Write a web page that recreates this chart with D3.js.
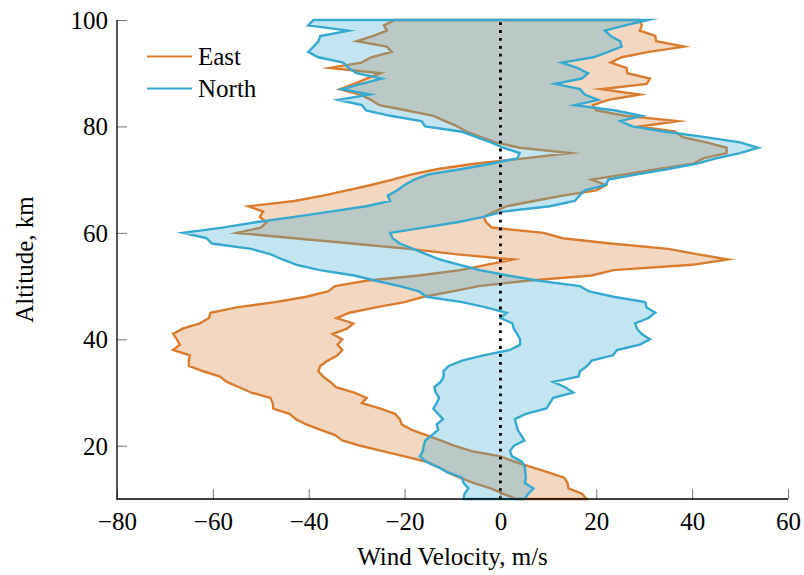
<!DOCTYPE html>
<html><head><meta charset="utf-8">
<script src="https://cdn.jsdelivr.net/npm/d3@7"></script>
<style>
body{margin:0;background:#fff}
svg{display:block}
text{font-family:"Liberation Serif","Times New Roman",serif;fill:#000}
</style>
</head><body>
<svg id="chart" width="804" height="575"></svg>
<script>
// Altitude grid (km), one value per km from 10 to 100
const altitudes = d3.range(10, 101);

// East wind band: lower and upper bound (m/s)
const eastLow = [
  3.4, 0.5, -2, -5.5, -8.5, -11, -13, -15.5, -20, -24.6,
  -29.2, -33, -34.5, -37.5, -40.5, -42.7, -44, -47.4, -47.5, -48,
  -52, -54.5, -57.1, -58.5, -62, -65, -65, -64.8, -68.3, -66.9,
  -67.5, -68.3, -66.3, -62.7, -60.8, -60.5, -55, -47, -40.5, -36,
  -34.5, -28, -17, -8.4, -3, 2.7, -9.5, -19, -31, -43,
  -55, -50, -48.8, -50.2, -49.5, -52.6, -43, -37, -32, -27,
  -22.5, -18.5, -13, -5.5, 5, 14.5, 4, -1, -4, -7,
  -9, -11.5, -14, -19.5, -25.3, -27, -29.3, -33.5, -30.5, -27.9,
  -25, -35.6, -29, -27, -22.7, -23.7, -30, -26.5, -23.7, -24.3, -22
];
const eastHigh = [
  18, 17, 14.2, 14, 13.3, 10, 6.5, 3, 0, -6,
  -9.5, -12.5, -15.5, -18.5, -20.6, -21, -22, -25, -28.9, -27.9,
  -30.5, -34.3, -35.5, -37, -38, -37.6, -36, -34, -33, -34,
  -33, -35, -32, -30.7, -34.2, -31.5, -26, -20, -16, -10,
  -4.5, 5.5, 19, 23.6, 40, 47.5, 41, 35, 23, 13,
  9, -1.8, -3, -3.5, -1.2, 1.3, 7, 13, 20, 22,
  19, 26, 33, 40.2, 42.3, 47.2, 47.2, 43, 38, 36.5,
  29, 37, 26, 20, 19.3, 22.5, 29.1, 21, 30.5, 31.2,
  26.5, 26.3, 23, 25.3, 31, 38.3, 32.5, 32.3, 29.1, 29.5, 29
];
// North wind band: lower and upper bound (m/s)
const northLow = [
  -7.7, -7.5, -6.7, -7.7, -8, -11, -13, -15.5, -16.8, -16.2,
  -16, -15.7, -14.3, -13, -13.3, -12, -13, -14, -13.3, -12.8,
  -13.5, -13.8, -12.5, -11.8, -11.9, -10.8, -8, -3.6, 2, 4.1,
  4.1, 3.5, 2.8, 2.5, 0, 1.3, -3, -8, -15.4, -17,
  -21, -26, -30.5, -37.7, -42.5, -45.5, -48, -52, -60.2, -61.3,
  -66.2, -58, -51, -43, -35.5, -28, -23, -23.5, -21.5, -20,
  -18, -15, -8, -2, 3.5, 4, 0.6, -2, -5, -8,
  -15.7, -16.5, -23, -28, -28.9, -33.8, -27.2, -33.1, -29, -24.8,
  -30, -31.7, -32.8, -38, -40.1, -39, -38, -37.6, -31.7, -40.1, -39
];
const northHigh = [
  5, 5.8, 6.9, 5.1, 5.3, 5.2, 5.1, 4.5, 2.4, 2.0,
  2.8, 5, 4.3, 3.6, 3.3, 3.0, 5.3, 9.6, 10.3, 11,
  15.2, 13.5, 11, 16.3, 16.6, 18.1, 19, 23.5, 24.3, 29.1,
  31.2, 29.5, 28.5, 28.1, 30.9, 32.3, 30.5, 30.2, 23.6, 18.5,
  16.6, 8, 1.5, -4.3, -8.5, -12.6, -15.5, -18.2, -21, -22.5,
  -23, -16, -9, -3.5, 0.6, 10.3, 15.5, 16.5, 17.6, 22,
  22.5, 28.5, 35, 41, 45, 50, 53.8, 50, 42.7, 34.5,
  27.5, 25, 29.5, 24, 15.5, 20.4, 17.6, 16.6, 11.4, 17,
  18.3, 16, 12.8, 19.4, 22.5, 25.3, 25, 23, 21.8, 26, 30.8
];

const seriesNames = ["East", "North"];
const seriesColors = ["#d97c2f", "#35a9d0"];
const xTicks = [-80, -60, -40, -20, 0, 20, 40, 60];
const yTicks = [20, 40, 60, 80, 100];
const xLabel = "Wind Velocity, m/s";
const yLabel = "Altitude, km";

const svg = d3.select("#chart");
const x = d3.scaleLinear().domain([-80, 60]).range([117, 788]);
const y = d3.scaleLinear().domain([10, 100]).range([499, 20]);

const bands = [
  {name: seriesNames[0], color: seriesColors[0], lo: eastLow, hi: eastHigh},
  {name: seriesNames[1], color: seriesColors[1], lo: northLow, hi: northHigh}
];

const area = d3.area()
  .y(d => y(d.alt))
  .x0(d => x(d.lo))
  .x1(d => x(d.hi))
  .curve(d3.curveLinear);

bands.forEach(b => {
  const rows = altitudes.map((a, i) => ({alt: a, lo: b.lo[i], hi: b.hi[i]}));
  svg.append("path").datum(rows)
    .attr("d", area)
    .attr("fill", b.color).attr("fill-opacity", 0.3)
    .attr("stroke", b.color).attr("stroke-width", 2.4)
    .attr("stroke-linejoin", "miter").attr("stroke-miterlimit", 10);
});

// zero line
svg.append("line")
  .attr("x1", x(0)).attr("x2", x(0))
  .attr("y1", y(10)).attr("y2", y(100))
  .attr("stroke", "#000").attr("stroke-width", 2.8)
  .attr("stroke-dasharray", "2.8,5.1");

// axes
const xAxis = d3.axisBottom(x).tickValues(xTicks).tickSize(0).tickPadding(0)
  .tickFormat(d3.format("d"));
const gx = svg.append("g").attr("transform", `translate(0,${y(10)})`).call(xAxis);
gx.select(".domain").remove();
gx.selectAll(".tick text").attr("font-size", 25).attr("dy", null).attr("y", 31)
  .attr("font-family", "Liberation Serif");
gx.selectAll(".tick").append("line").attr("y1", 0).attr("y2", -10)
  .attr("stroke", "#777").attr("stroke-width", 1);

const yAxis = d3.axisLeft(y).tickValues(yTicks).tickSize(0).tickPadding(0)
  .tickFormat(d3.format("d"));
const gy = svg.append("g").attr("transform", `translate(${x(-80)},0)`).call(yAxis);
gy.select(".domain").remove();
gy.selectAll(".tick text").attr("font-size", 25).attr("x", -9).attr("dy", "0.34em")
  .attr("font-family", "Liberation Serif");
gy.selectAll(".tick").append("line").attr("x1", 0).attr("x2", 10)
  .attr("stroke", "#777").attr("stroke-width", 1);

svg.append("line").attr("x1", x(-80)).attr("x2", x(-80)).attr("y1", y(100)).attr("y2", y(10) + 0.6)
  .attr("stroke", "#000").attr("stroke-width", 1.3);
svg.append("line").attr("x1", x(-80) - 0.6).attr("x2", x(60)).attr("y1", y(10)).attr("y2", y(10))
  .attr("stroke", "#000").attr("stroke-width", 1.3);

svg.append("text").attr("x", (x(-80) + x(60)) / 2).attr("y", 565)
  .attr("text-anchor", "middle").attr("font-size", 25).text(xLabel);
svg.append("text").attr("transform", `translate(33,${(y(10) + y(100)) / 2}) rotate(-90)`)
  .attr("text-anchor", "middle").attr("font-size", 25).text(yLabel);

// legend
const legend = svg.append("g");
bands.forEach((b, i) => {
  const ly = 56.5 + i * 32;
  legend.append("line").attr("x1", 147).attr("x2", 192).attr("y1", ly).attr("y2", ly)
    .attr("stroke", b.color).attr("stroke-width", 1.8);
  legend.append("text").attr("x", 198).attr("y", ly + 8.5).attr("font-size", 25).text(b.name);
});
</script>
</body></html>
